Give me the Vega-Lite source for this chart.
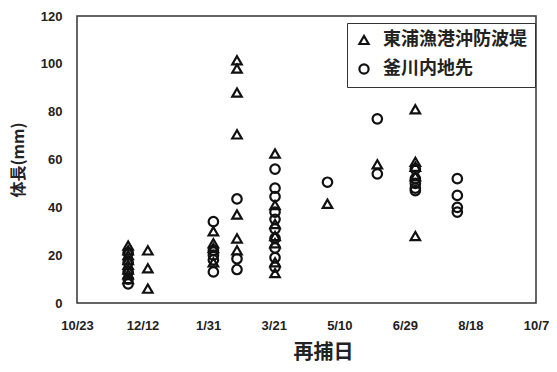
{
  "$schema": "https://vega.github.io/schema/vega-lite/v6.json",
  "width": 459,
  "height": 287,
  "autosize": {"type": "none"},
  "padding": {"left": 77, "top": 16, "right": 21, "bottom": 69},
  "background": "white",
  "config": {
    "view": {"stroke": "#333", "strokeWidth": 1.5},
    "axis": {"grid": false, "domain": false, "ticks": false,
      "labelFont": "Liberation Sans", "labelFontWeight": "bold", "labelFontSize": 13, "labelColor": "#222",
      "titleFont": "Noto Sans CJK JP", "titleFontWeight": "bold", "titleColor": "#222"}
  },
  "data": {"values": [
    {"date": "2019/12/01", "site": "東浦漁港沖防波堤", "len": 24},
    {"date": "2019/12/01", "site": "東浦漁港沖防波堤", "len": 22},
    {"date": "2019/12/01", "site": "東浦漁港沖防波堤", "len": 20},
    {"date": "2019/12/01", "site": "東浦漁港沖防波堤", "len": 18},
    {"date": "2019/12/01", "site": "東浦漁港沖防波堤", "len": 16},
    {"date": "2019/12/01", "site": "東浦漁港沖防波堤", "len": 14},
    {"date": "2019/12/01", "site": "東浦漁港沖防波堤", "len": 12},
    {"date": "2019/12/01", "site": "東浦漁港沖防波堤", "len": 10},
    {"date": "2019/12/01", "site": "釜川内地先", "len": 21},
    {"date": "2019/12/01", "site": "釜川内地先", "len": 17},
    {"date": "2019/12/01", "site": "釜川内地先", "len": 13},
    {"date": "2019/12/01", "site": "釜川内地先", "len": 10},
    {"date": "2019/12/01", "site": "釜川内地先", "len": 8},
    {"date": "2019/12/16", "site": "東浦漁港沖防波堤", "len": 22},
    {"date": "2019/12/16", "site": "東浦漁港沖防波堤", "len": 14.5},
    {"date": "2019/12/16", "site": "東浦漁港沖防波堤", "len": 6},
    {"date": "2020/02/04", "site": "釜川内地先", "len": 34},
    {"date": "2020/02/04", "site": "東浦漁港沖防波堤", "len": 30},
    {"date": "2020/02/04", "site": "東浦漁港沖防波堤", "len": 25},
    {"date": "2020/02/04", "site": "東浦漁港沖防波堤", "len": 23},
    {"date": "2020/02/04", "site": "釜川内地先", "len": 22},
    {"date": "2020/02/04", "site": "釜川内地先", "len": 20},
    {"date": "2020/02/04", "site": "釜川内地先", "len": 18},
    {"date": "2020/02/04", "site": "東浦漁港沖防波堤", "len": 17},
    {"date": "2020/02/04", "site": "釜川内地先", "len": 13},
    {"date": "2020/02/22", "site": "東浦漁港沖防波堤", "len": 101.5},
    {"date": "2020/02/22", "site": "東浦漁港沖防波堤", "len": 98},
    {"date": "2020/02/22", "site": "東浦漁港沖防波堤", "len": 88},
    {"date": "2020/02/22", "site": "東浦漁港沖防波堤", "len": 70.5},
    {"date": "2020/02/22", "site": "釜川内地先", "len": 43.5},
    {"date": "2020/02/22", "site": "東浦漁港沖防波堤", "len": 37},
    {"date": "2020/02/22", "site": "東浦漁港沖防波堤", "len": 27},
    {"date": "2020/02/22", "site": "東浦漁港沖防波堤", "len": 22},
    {"date": "2020/02/22", "site": "釜川内地先", "len": 18.5},
    {"date": "2020/02/22", "site": "釜川内地先", "len": 14},
    {"date": "2020/03/22", "site": "東浦漁港沖防波堤", "len": 62.5},
    {"date": "2020/03/22", "site": "釜川内地先", "len": 56},
    {"date": "2020/03/22", "site": "釜川内地先", "len": 48},
    {"date": "2020/03/22", "site": "釜川内地先", "len": 44.5},
    {"date": "2020/03/22", "site": "東浦漁港沖防波堤", "len": 41},
    {"date": "2020/03/22", "site": "釜川内地先", "len": 38},
    {"date": "2020/03/22", "site": "釜川内地先", "len": 35},
    {"date": "2020/03/22", "site": "東浦漁港沖防波堤", "len": 33},
    {"date": "2020/03/22", "site": "釜川内地先", "len": 31},
    {"date": "2020/03/22", "site": "東浦漁港沖防波堤", "len": 28},
    {"date": "2020/03/22", "site": "釜川内地先", "len": 27},
    {"date": "2020/03/22", "site": "東浦漁港沖防波堤", "len": 25},
    {"date": "2020/03/22", "site": "釜川内地先", "len": 23},
    {"date": "2020/03/22", "site": "釜川内地先", "len": 19},
    {"date": "2020/03/22", "site": "東浦漁港沖防波堤", "len": 17},
    {"date": "2020/03/22", "site": "釜川内地先", "len": 15},
    {"date": "2020/03/22", "site": "東浦漁港沖防波堤", "len": 12.5},
    {"date": "2020/05/01", "site": "釜川内地先", "len": 50.5},
    {"date": "2020/05/01", "site": "東浦漁港沖防波堤", "len": 41.5},
    {"date": "2020/06/08", "site": "釜川内地先", "len": 77},
    {"date": "2020/06/08", "site": "東浦漁港沖防波堤", "len": 58},
    {"date": "2020/06/08", "site": "釜川内地先", "len": 54},
    {"date": "2020/07/07", "site": "東浦漁港沖防波堤", "len": 81},
    {"date": "2020/07/07", "site": "東浦漁港沖防波堤", "len": 59},
    {"date": "2020/07/07", "site": "東浦漁港沖防波堤", "len": 57},
    {"date": "2020/07/07", "site": "釜川内地先", "len": 56},
    {"date": "2020/07/07", "site": "東浦漁港沖防波堤", "len": 53},
    {"date": "2020/07/07", "site": "釜川内地先", "len": 52},
    {"date": "2020/07/07", "site": "釜川内地先", "len": 50},
    {"date": "2020/07/07", "site": "釜川内地先", "len": 48},
    {"date": "2020/07/07", "site": "釜川内地先", "len": 47},
    {"date": "2020/07/07", "site": "東浦漁港沖防波堤", "len": 28},
    {"date": "2020/08/08", "site": "釜川内地先", "len": 52},
    {"date": "2020/08/08", "site": "釜川内地先", "len": 45},
    {"date": "2020/08/08", "site": "釜川内地先", "len": 40},
    {"date": "2020/08/08", "site": "釜川内地先", "len": 38}
  ]},
  "mark": {"type": "point", "filled": false, "strokeWidth": 2.2, "size": 90, "color": "#111", "opacity": 1},
  "encoding": {
    "x": {"field": "date", "type": "temporal",
      "scale": {"domain": [{"year": 2019, "month": 10, "date": 23}, {"year": 2020, "month": 10, "date": 7}], "nice": false},
      "axis": {"title": "再捕日", "format": "%-m/%-d", "labelPadding": 16, "titleFontSize": 20, "titlePadding": 10, "titleX": 246,
        "labelOverlap": false, "labelFlush": false,
        "values": [
          {"year": 2019, "month": 10, "date": 23},
          {"year": 2019, "month": 12, "date": 12},
          {"year": 2020, "month": 1, "date": 31},
          {"year": 2020, "month": 3, "date": 21},
          {"year": 2020, "month": 5, "date": 10},
          {"year": 2020, "month": 6, "date": 29},
          {"year": 2020, "month": 8, "date": 18},
          {"year": 2020, "month": 10, "date": 7}
        ]}},
    "y": {"field": "len", "type": "quantitative",
      "scale": {"domain": [0, 120], "nice": false},
      "axis": {"title": "体長(mm)", "values": [0, 20, 40, 60, 80, 100, 120], "labelPadding": 15, "titleFontSize": 16, "titlePadding": 14}},
    "shape": {"field": "site", "type": "nominal",
      "scale": {"domain": ["東浦漁港沖防波堤", "釜川内地先"], "range": ["triangle-up", "circle"]},
      "legend": {"title": null, "orient": "none", "legendX": 270, "legendY": 7,
        "strokeColor": "#333", "padding": 8, "rowPadding": 10,
        "labelFont": "Noto Sans CJK JP", "labelFontWeight": "bold", "labelFontSize": 18, "labelColor": "#222", "labelOffset": 10,
        "symbolSize": 85, "symbolStrokeWidth": 2.2, "symbolStrokeColor": "#111", "symbolFillColor": "transparent", "symbolOpacity": 1}}
  }
}
